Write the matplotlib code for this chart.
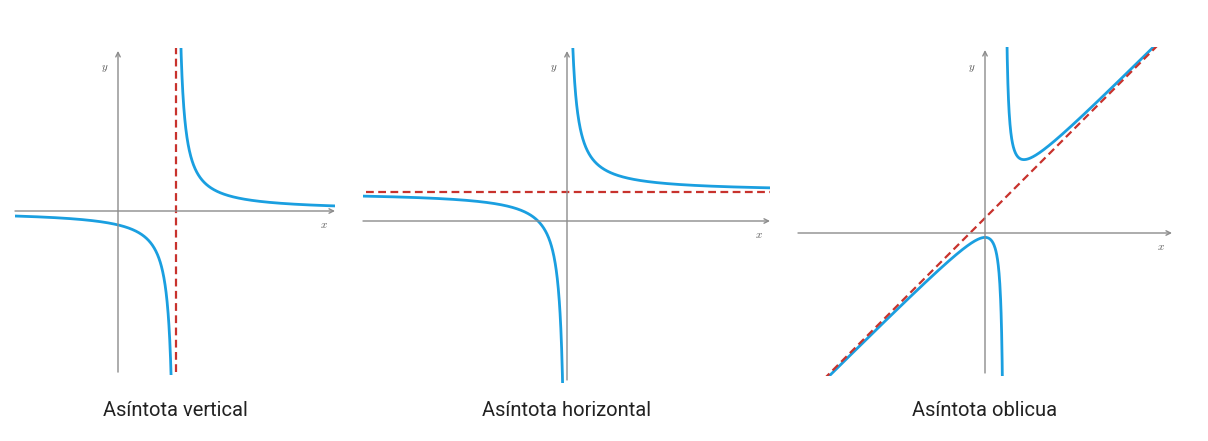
import numpy as np
import matplotlib
matplotlib.use('Agg')
import matplotlib.pyplot as plt

plt.rcParams['mathtext.fontset'] = 'cm'

W, H = 1208, 441
BLUE = '#1a9fe0'
RED = '#c8322d'
GREY = '#8c8c8c'

titles = ['Asíntota vertical', 'Asíntota horizontal', 'Asíntota oblicua']

# panel boxes in pixels (left, top, right, bottom) and origin / scale
boxes = [(15, 48, 335, 375), (363, 48, 770, 383), (798, 47, 1172, 376)]
origins = [(118, 211), (567, 221), (985, 233)]
scales = [29, 30, 30]
title_x = [175, 567, 985]

# curve parameters
vert_a, vert_k = 2.0, 0.96            # y = k / (x - a)
hor_b, hor_k = 0.967, 0.935           # y = b + k / x
obl_m, obl_c, obl_a, obl_k = 1.0, 0.5, 0.65, 0.42   # y = m x + c + k / (x - a)


def make_ax(i):
    l, t, r, b = boxes[i]
    ox, oy = origins[i]
    s = scales[i]
    ax = fig.add_axes([l / W, (H - b) / H, (r - l) / W, (b - t) / H])
    ax.set_xlim((l - ox) / s, (r - ox) / s)
    ax.set_ylim((oy - b) / s, (oy - t) / s)
    ax.axis('off')
    x0, x1 = ax.get_xlim()
    y0, y1 = ax.get_ylim()
    ax.annotate('', xy=(x1, 0), xytext=(x0, 0),
                arrowprops=dict(arrowstyle='->', color=GREY, lw=1.0,
                                mutation_scale=8, shrinkA=0, shrinkB=0))
    ax.annotate('', xy=(0, y1 - 0.1), xytext=(0, y0 + 0.1),
                arrowprops=dict(arrowstyle='->', color=GREY, lw=1.0,
                                mutation_scale=8, shrinkA=0, shrinkB=0))
    ax.annotate('$x$', xy=(x1, 0), xytext=(-11, -14), textcoords='offset pixels',
                ha='center', va='center', fontsize=8, color='#555555')
    ax.annotate('$y$', xy=(0, y1), xytext=(-13, -21), textcoords='offset pixels',
                ha='center', va='center', fontsize=8, color='#555555')
    fig.text(title_x[i] / W, 1 - 410 / H, titles[i], ha='center', va='center',
             fontsize=14.5, family='Roboto', color='#222222')
    return ax


fig = plt.figure(figsize=(W / 100, H / 100), dpi=100)
fig.patch.set_facecolor('white')

# vertical asymptote
ax = make_ax(0)
x0, x1 = ax.get_xlim()
y0, y1 = ax.get_ylim()
xl = np.linspace(x0, vert_a - 0.001, 800)
xr = np.linspace(vert_a + 0.001, x1, 800)
ax.plot(xl, vert_k / (xl - vert_a), color=BLUE, lw=2)
ax.plot(xr, vert_k / (xr - vert_a), color=BLUE, lw=2)
ax.plot([vert_a, vert_a], [y0 + 0.1, y1], color=RED, lw=1.6, ls=(0, (3.5, 2)))
ax.set_ylim(y0, y1)

# horizontal asymptote
ax = make_ax(1)
x0, x1 = ax.get_xlim()
y0, y1 = ax.get_ylim()
xl = np.linspace(x0, -0.001, 800)
xr = np.linspace(0.001, x1, 800)
ax.plot(xl, hor_b + hor_k / xl, color=BLUE, lw=2)
ax.plot(xr, hor_b + hor_k / xr, color=BLUE, lw=2)
ax.plot([x0 + 0.1, x1], [hor_b, hor_b], color=RED, lw=1.6, ls=(0, (3.5, 2)))
ax.set_ylim(y0, y1)

# oblique asymptote
ax = make_ax(2)
x0, x1 = ax.get_xlim()
y0, y1 = ax.get_ylim()
xl = np.linspace(x0, obl_a - 0.001, 800)
xr = np.linspace(obl_a + 0.001, x1, 800)
ax.plot(xl, obl_m * xl + obl_c + obl_k / (xl - obl_a), color=BLUE, lw=2)
ax.plot(xr, obl_m * xr + obl_c + obl_k / (xr - obl_a), color=BLUE, lw=2)
xs = np.array([x0, x1])
ax.plot(xs, obl_m * xs + obl_c, color=RED, lw=1.6, ls=(0, (3.5, 2)))
ax.set_xlim(x0, x1)
ax.set_ylim(y0, y1)

fig.savefig('out.png', dpi=100)
